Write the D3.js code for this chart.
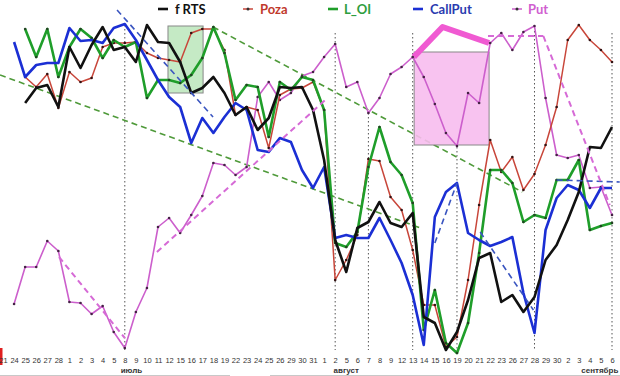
<!DOCTYPE html>
<html><head><meta charset="utf-8">
<script src="https://cdn.jsdelivr.net/npm/d3@7"></script>
<style>body{margin:0;background:#fff;} svg{display:block;}</style>
</head><body><svg id="c" width="620" height="376"></svg>
<script>
// ---- categories (trading days, Jun 21 – Sep 6) ----
const dates = ["21","24","25","26","27","28","1","2","3","4","5","8","9","10","11","12","15","16","17","18","19","22","23","24","25","26","29","30","31","1","2","5","6","7","8","9","12","13","14","15","16","19","20","21","22","23","26","27","28","29","30","2","3","4","5","6"];
const months = [["июль", 11.6], ["август", 31.0], ["сентябрь", 53.9]];

// ---- series values (index units) ----
const fRTS = [null,null,257,272,275,253,313,292,315,333,310,313,298,335,318,317,298,267,272,283,267,245,253,230,242,273,272,273,250,200,120,88,132,138,158,137,133,147,43,37,10,28,60,102,107,58,65,48,63,100,115,140,168,213,212,233];
const poza = [null,null,283,273,286,252,288,278,282,313,317,317,318,307,302,300,298,327,331,331,310,245,253,250,212,265,271,272,278,250,80,100,125,201,199,163,150,110,55,55,13,23,80,155,220,188,203,170,186,215,253,320,335,320,310,298];
const lOI = [null,null,331,303,331,283,313,331,322,302,320,313,318,262,280,280,277,285,302,333,307,260,275,273,223,278,270,283,280,250,117,113,128,193,233,198,185,157,30,70,17,7,37,107,190,190,177,138,145,142,180,180,200,130,134,137];
const callPut = [null,318,283,295,297,297,332,319,320,317,332,336,320,300,280,263,253,217,242,227,243,257,250,210,208,222,218,190,172,193,122,125,122,122,142,120,97,65,15,143,168,177,127,120,114,118,123,67,27,130,162,175,170,152,172,172];
const put = [null,56,93,93,119,109,58,57,46,54,28,12,48,72,133,142,127,145,164,197,195,185,193,263,278,260,267,284,288,303,316,273,278,247,262,286,293,303,283,256,227,214,267,257,317,327,310,328,334,262,205,202,205,172,173,145];

// ---- annotations (index, value) ----
const greenTrends = [[[-0.27,285],[37.7,132]], [[18.97,333],[46.9,168]]];
const blueTrends = [[[10.3,350],[18.97,243]], [[39.0,117],[41.0,177]], [[43.1,128],[47.9,50]], [[50.0,180],[55.7,178]]];
const putTrends = [[[5.06,103],[11.0,22]], [[13.9,108],[29.1,260]], [[43.8,324],[48.8,324]], [[48.8,324],[54.8,155]]];
const putThick = [[37.1,303],[39.7,333],[43.9,317]];
const greenBox = [14.9, 18.07, 267, 334];
const pinkBox = [37.13, 43.9, 215, 308];
const dropLines = [[11,335],[30,327],[33,247],[37,327],[41,213],[48,333],[55,327]];

const svg = d3.select("#c");
const x = d3.scaleLinear().domain([0,55]).range([3,612]);
const y = d3.scaleLinear().domain([0,360]).range([360,0]);
const line = d3.line().defined(d=>d[1]!=null).x(d=>x(d[0])).y(d=>y(d[1]));

// bottom frame + red mark
svg.append("line").attr("x1",0).attr("x2",230).attr("y1",375.5).attr("y2",375.5).attr("stroke","#c8c8c8");
svg.append("line").attr("x1",270).attr("x2",620).attr("y1",375.5).attr("y2",375.5).attr("stroke","#c8c8c8");
svg.append("rect").attr("x",0).attr("y",348).attr("width",2.5).attr("height",17).attr("fill","#e02020");

// drop lines
svg.selectAll("line.drop").data(dropLines).join("line").attr("class","drop")
  .attr("x1",d=>x(d[0])).attr("x2",d=>x(d[0])).attr("y1",d=>y(d[1])).attr("y2",y(10))
  .attr("stroke","#555").attr("stroke-width",1).attr("stroke-dasharray","1.5,2.5");

// green trend lines
svg.selectAll("path.gt").data(greenTrends).join("path").attr("class","gt")
  .attr("d",line).attr("fill","none").attr("stroke","#4f9a3a").attr("stroke-width",1.6).attr("stroke-dasharray","6,4");

// boxes
function box(b, fill, op){
  svg.append("rect").attr("x",x(b[0])).attr("y",y(b[3])).attr("width",x(b[1])-x(b[0])).attr("height",y(b[2])-y(b[3]))
    .attr("fill",fill).attr("fill-opacity",op).attr("stroke","#888").attr("stroke-width",1);
}
box(greenBox,"#9fdc9f",0.6);
box(pinkBox,"#f7bdee",0.9);

// thick put trend
svg.append("path").attr("d",line(putThick)).attr("fill","none").attr("stroke","#f05ad2").attr("stroke-width",6).attr("stroke-linejoin","round");

const idx = arr => arr.map((v,i)=>[i,v]);
function series(arr, color, w, marker){
  svg.append("path").attr("d",line(idx(arr))).attr("fill","none").attr("stroke",color).attr("stroke-width",w).attr("stroke-linejoin","round");
  if(marker){
    svg.append("g").selectAll("circle").data(idx(arr).filter(d=>d[1]!=null)).join("circle")
      .attr("cx",d=>x(d[0])).attr("cy",d=>y(d[1])).attr("r",1.3).attr("fill",marker);
  }
}
series(put,"#cc5fcc",1.6,"#442244");
series(poza,"#c8463a",1.5,"#331111");
series(lOI,"#1f9e2a",2.6,"#224422");
series(callPut,"#1b2fd4",2.6,null);
series(fRTS,"#111111",2.6,null);

// blue & put trends on top
svg.selectAll("path.bt").data(blueTrends).join("path").attr("class","bt")
  .attr("d",line).attr("fill","none").attr("stroke","#3a55c0").attr("stroke-width",1.6).attr("stroke-dasharray","6,4");
svg.selectAll("path.pt").data(putTrends).join("path").attr("class","pt")
  .attr("d",line).attr("fill","none").attr("stroke","#d66ad6").attr("stroke-width",2).attr("stroke-dasharray","6,4");

// x axis
const ax = svg.append("g").attr("transform","translate(0,355)")
  .call(d3.axisBottom(x).tickValues(d3.range(56)).tickFormat(i=>dates[i]).tickSize(0));
ax.select(".domain").remove();
ax.selectAll("text").attr("font-family","'Liberation Sans', Arial, sans-serif").attr("font-size",7.5).attr("fill","#333");
svg.selectAll("text.mon").data(months).join("text").attr("class","mon")
  .attr("x",d=>x(d[1])).attr("y",373).attr("text-anchor","middle")
  .attr("font-family","'Liberation Sans', Arial, sans-serif").attr("font-size",8).attr("font-weight","bold").attr("fill","#333")
  .text(d=>d[0]);

// legend
const legend = [["f RTS","#111111","#111111",158,175,false],["Poza","#c8463a","#c0392b",243,260,true],["L_OI","#1f9e2a","#2e9e3e",328,344,false],["CallPut","#1b2fd4","#2a3cb0",413,430,false],["Put","#cc5fcc","#d060d0",512,528,true]];
const lg = svg.append("g");
legend.forEach(d=>{
  lg.append("line").attr("x1",d[3]).attr("x2",d[3]+10).attr("y1",9).attr("y2",9).attr("stroke",d[1]).attr("stroke-width",d[5]?1.5:2.6);
  if(d[5]) lg.append("circle").attr("cx",d[3]+5).attr("cy",9).attr("r",1.5).attr("fill","#333");
  lg.append("text").attr("x",d[4]).attr("y",14).attr("font-family","Lato, 'Open Sans', sans-serif").attr("font-weight","bold").attr("font-size",13).attr("fill",d[2]).text(d[0]);
});
</script>
</body></html>
